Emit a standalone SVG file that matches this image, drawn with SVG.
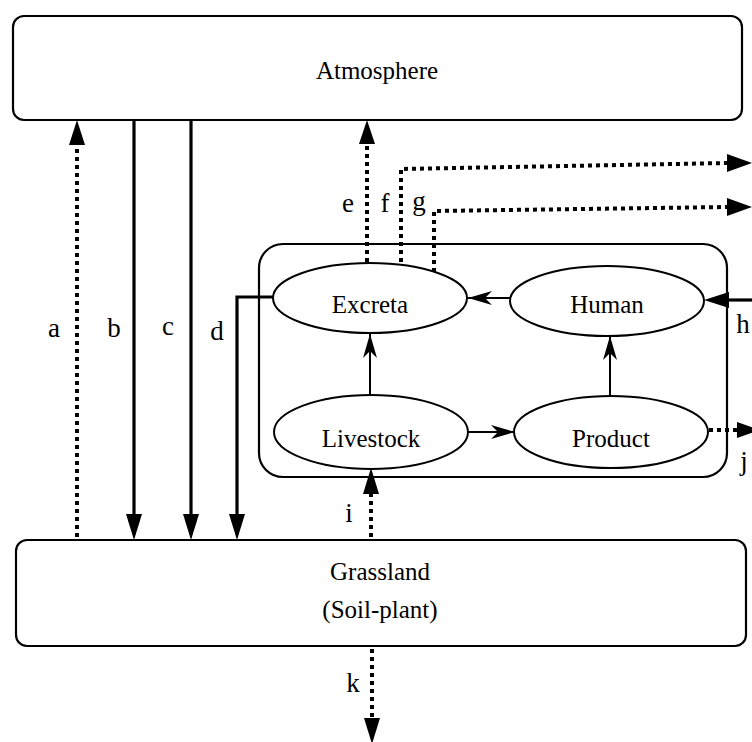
<svg xmlns="http://www.w3.org/2000/svg" width="752" height="742" viewBox="0 0 752 742">
<style>
text{font-family:"Liberation Serif","Times New Roman",serif;fill:#000;text-anchor:middle}
.nt{font-size:25px}
.lb{font-size:27px}
.box{fill:#fff;stroke:#000;stroke-width:2.2}
.ell{fill:#fff;stroke:#000;stroke-width:2}
.solid{fill:none;stroke:#000;stroke-width:3.2}
.thin{fill:none;stroke:#000;stroke-width:2}
.dot{fill:none;stroke:#000;stroke-width:4;stroke-dasharray:4 4}
</style>
<defs>
<marker id="stl" markerUnits="userSpaceOnUse" viewBox="0 0 24 14" refX="24" refY="7" markerWidth="24" markerHeight="14" orient="auto">
<path d="M0,0 L24,7 L0,14 L7,7 Z" fill="#000"/>
</marker>
</defs>
<g id="atmosphere">
<rect class="box" x="13" y="16" width="729" height="104" rx="11"/>
<text class="nt" x="377" y="79">Atmosphere</text>
</g>
<g id="grassland">
<rect class="box" x="16" y="540" width="730" height="106" rx="11"/>
<text class="nt" x="380" y="580">Grassland</text>
<text class="nt" x="380" y="618">(Soil-plant)</text>
</g>
<g id="system">
<rect class="box" x="259" y="244" width="468" height="233" rx="24"/>
</g>
<g id="connectors">
<line class="dot" x1="77" y1="537" x2="77" y2="145"/>
<path d="M77,120 L69,145 L85,145 Z"/>
<line class="solid" x1="134" y1="120" x2="134" y2="516"/>
<path d="M134,540 L126,514 L142,514 Z"/>
<line class="solid" x1="191" y1="120" x2="191" y2="516"/>
<path d="M191,540 L183,514 L199,514 Z"/>
<path class="solid" d="M274,297 L237,297 L237,516" stroke-width="3.6"/>
<path d="M237,540 L229,514 L245,514 Z"/>
<line class="dot" x1="367" y1="262" x2="367" y2="145"/>
<path d="M367,120 L359,144 L375,144 Z"/>
<path class="dot" d="M401,262 L401,169 L728,163"/>
<path d="M752,163 L727,154 L727,172 Z"/>
<path class="dot" d="M434,272 L434,211 L728,207"/>
<path d="M752,207 L727,198 L727,216 Z"/>
<line class="solid" x1="752" y1="300" x2="727" y2="300" stroke-width="4"/>
<path d="M704,300 L729,292 L729,308 Z"/>
<line class="dot" x1="709" y1="430" x2="737" y2="430"/>
<path d="M760,430 L737,422 L737,438 Z"/>
<line class="dot" x1="371" y1="537" x2="371" y2="493"/>
<path d="M371,468 L363,494 L379,494 Z"/>
<line class="dot" x1="372" y1="649" x2="372" y2="718"/>
<path d="M372,744 L364,718 L380,718 Z"/>
<line class="thin" x1="510" y1="298" x2="468" y2="298" marker-end="url(#stl)"/>
<line class="thin" x1="370" y1="395" x2="370" y2="334" marker-end="url(#stl)"/>
<line class="thin" x1="468" y1="432" x2="515" y2="432" marker-end="url(#stl)"/>
<line class="thin" x1="610" y1="397" x2="610" y2="336" marker-end="url(#stl)"/>
</g>
<g id="excreta">
<ellipse class="ell" cx="370" cy="298" rx="97" ry="35"/>
<text class="nt" x="370" y="313">Excreta</text>
</g>
<g id="human">
<ellipse class="ell" cx="607" cy="301" rx="97" ry="35"/>
<text class="nt" x="607" y="313">Human</text>
</g>
<g id="livestock">
<ellipse class="ell" cx="371" cy="432" rx="97" ry="37"/>
<text class="nt" x="371" y="447">Livestock</text>
</g>
<g id="product">
<ellipse class="ell" cx="611" cy="432" rx="97" ry="36"/>
<text class="nt" x="611" y="447">Product</text>
</g>
<g id="labels">
<text class="lb" x="54" y="337">a</text>
<text class="lb" x="114" y="337">b</text>
<text class="lb" x="168" y="335">c</text>
<text class="lb" x="217" y="340">d</text>
<text class="lb" x="348" y="212">e</text>
<text class="lb" x="385" y="212">f</text>
<text class="lb" x="419" y="210">g</text>
<text class="lb" x="743" y="333">h</text>
<text class="lb" x="744" y="470">j</text>
<text class="lb" x="349" y="522">i</text>
<text class="lb" x="353" y="692">k</text>
</g>
</svg>
